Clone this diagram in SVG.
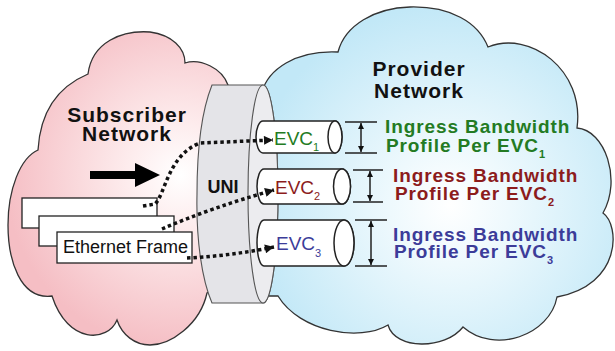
<svg xmlns="http://www.w3.org/2000/svg" width="615" height="351" viewBox="0 0 615 351">
<defs>
<radialGradient id="pinkG" gradientUnits="userSpaceOnUse" cx="180" cy="175" r="175">
<stop offset="0" stop-color="#ffffff"/>
<stop offset="0.3" stop-color="#fdeced"/>
<stop offset="1" stop-color="#f5bec4"/>
</radialGradient>
<radialGradient id="blueG" gradientUnits="userSpaceOnUse" cx="450" cy="205" r="200">
<stop offset="0" stop-color="#ffffff"/>
<stop offset="0.3" stop-color="#eef9fd"/>
<stop offset="1" stop-color="#c2e8f7"/>
</radialGradient>
<marker id="ah" viewBox="0 0 10 10" refX="10" refY="5" markerWidth="10" markerHeight="9" markerUnits="userSpaceOnUse" orient="auto">
<path d="M0,0 L10,5 L0,10 Z" fill="#111"/>
</marker>
<marker id="dimE" viewBox="0 0 10 10" refX="10" refY="5" markerWidth="7" markerHeight="6" markerUnits="userSpaceOnUse" orient="auto">
<path d="M0,0 L10,5 L0,10 Z" fill="#111"/>
</marker>
<marker id="dimS" viewBox="0 0 10 10" refX="0" refY="5" markerWidth="7" markerHeight="6" markerUnits="userSpaceOnUse" orient="auto">
<path d="M10,0 L0,5 L10,10 Z" fill="#111"/>
</marker>
</defs>
<style>
.cloud{stroke:#333;stroke-width:1.3}
.big{font-family:"Liberation Sans",Arial,sans-serif;font-weight:bold;font-size:21px;letter-spacing:1px;fill:#111;text-anchor:middle}
.bw{font-family:"Liberation Sans",Arial,sans-serif;font-weight:bold;font-size:19px;letter-spacing:0.9px}
.evc{font-family:"Liberation Sans",Arial,sans-serif;font-size:19px}
.sub{font-size:11px;letter-spacing:0}
.pipe{fill:#fff;stroke:#222;stroke-width:1.5}
.dim{stroke:#222;stroke-width:1.5;fill:none}
.frame{fill:#fff;stroke:#222;stroke-width:1.3}
.dot{fill:none;stroke:#111;stroke-width:3.5;stroke-dasharray:3.5 3}
.g{fill:#237b23}.r{fill:#8c1c1c}.b{fill:#3c3c99}
</style>

<g id="subscriber-network">
<path class="cloud" fill="url(#pinkG)" d="M38,150 C40,115 55,88 88,74 C92,42 122,30 150,32 C172,35 185,48 185,63 C200,58 222,68 228,85 L232,120 L232,280 L207,293 C200,325 170,345 150,345 C135,345 122,335 117,320 C108,342 68,345 52,296 C20,300 8,260 8,225 C8,190 20,158 38,150 Z"/>
<text class="big" x="127" y="122">Subscriber</text>
<text class="big" x="127" y="141">Network</text>
</g>

<g id="provider-network">
<path class="cloud" fill="url(#blueG)" d="M262,92 C268,70 295,50 338,52 C345,25 375,8 410,7 C450,6 478,22 488,47 C530,30 585,70 577,128 C605,130 622,180 603,213 C620,225 622,285 557,297 C550,335 495,355 463,327 C445,350 395,350 388,325 C360,342 300,332 278,296 L255,296 L255,92 Z"/>
<text class="big" x="419" y="76">Provider</text>
<text class="big" x="419" y="98">Network</text>
</g>

<g id="uni">
<path d="M212,85 L263,85 A15,109 0 0 1 263,303 L212,303 C202,280 196,240 197,194 C197,150 202,110 212,85 Z" fill="#e4e4e8" stroke="#555" stroke-width="1.1"/>
<ellipse cx="263" cy="194" rx="15" ry="109" fill="#ececef" stroke="#555" stroke-width="1.1"/>
<text x="223" y="193" font-family="Liberation Sans,Arial,sans-serif" font-weight="bold" font-size="18" fill="#111" text-anchor="middle">UNI</text>
</g>

<g id="ethernet-frames">
<rect class="frame" x="22" y="198" width="135" height="30"/>
<rect class="frame" x="39" y="216" width="135" height="30"/>
<rect class="frame" x="57" y="232" width="135" height="31"/>
<text x="63" y="253" font-family="Liberation Sans,Arial,sans-serif" font-size="18" fill="#111">Ethernet Frame</text>
</g>

<g id="direction-arrow">
<polygon points="90,171 135,171 135,163 160,175 135,187 135,179 90,179" fill="#000"/>
</g>

<g id="evc1">
<path class="pipe" d="M263,121 L335,121 A7,16 0 0 1 335,153 L263,153 A7,16 0 0 1 263,121 Z"/>
<ellipse class="pipe" cx="335" cy="137" rx="7" ry="16"/>
<text class="evc g" x="274" y="145">EVC<tspan class="sub" dy="6">1</tspan></text>
</g>
<g id="evc2">
<path class="pipe" d="M264,169 L342,169 A8.5,17.5 0 0 1 342,204 L264,204 A7,17.5 0 0 1 264,169 Z"/>
<ellipse class="pipe" cx="342" cy="186.5" rx="8.5" ry="17.5"/>
<text class="evc r" x="275" y="194">EVC<tspan class="sub" dy="6">2</tspan></text>
</g>
<g id="evc3">
<path class="pipe" d="M264,220 L344,220 A10,23 0 0 1 344,266 L264,266 A7,23 0 0 1 264,220 Z"/>
<ellipse class="pipe" cx="344" cy="243" rx="10" ry="23"/>
<text class="evc b" x="276" y="250">EVC<tspan class="sub" dy="7">3</tspan></text>
</g>

<g id="bw1">
<path class="dim" d="M345,122 H377 M345,153 H377"/>
<line class="dim" x1="361" y1="123" x2="361" y2="152" marker-start="url(#dimS)" marker-end="url(#dimE)"/>
<text class="bw g" x="385" y="133">Ingress Bandwidth</text>
<text class="bw g" x="386" y="152">Profile Per EVC<tspan class="sub" dy="6">1</tspan></text>
</g>
<g id="bw2">
<path class="dim" d="M353,170 H383 M353,202 H383"/>
<line class="dim" x1="370" y1="171" x2="370" y2="201" marker-start="url(#dimS)" marker-end="url(#dimE)"/>
<text class="bw r" x="393" y="182">Ingress Bandwidth</text>
<text class="bw r" x="395" y="200">Profile Per EVC<tspan class="sub" dy="6">2</tspan></text>
</g>
<g id="bw3">
<path class="dim" d="M355,220 H387 M355,266 H387"/>
<line class="dim" x1="371" y1="221" x2="371" y2="265" marker-start="url(#dimS)" marker-end="url(#dimE)"/>
<text class="bw b" x="393" y="241">Ingress Bandwidth</text>
<text class="bw b" x="394" y="258">Profile Per EVC<tspan class="sub" dy="6">3</tspan></text>
</g>

<g id="connectors">
<path class="dot" d="M143,206 L155,204 C165,195 168,155 200,143 L273,140" marker-end="url(#ah)"/>
<path class="dot" d="M162,229 Q210,208 274,190" marker-end="url(#ah)"/>
<path class="dot" d="M187,258 Q230,256 274,247" marker-end="url(#ah)"/>
</g>
</svg>
